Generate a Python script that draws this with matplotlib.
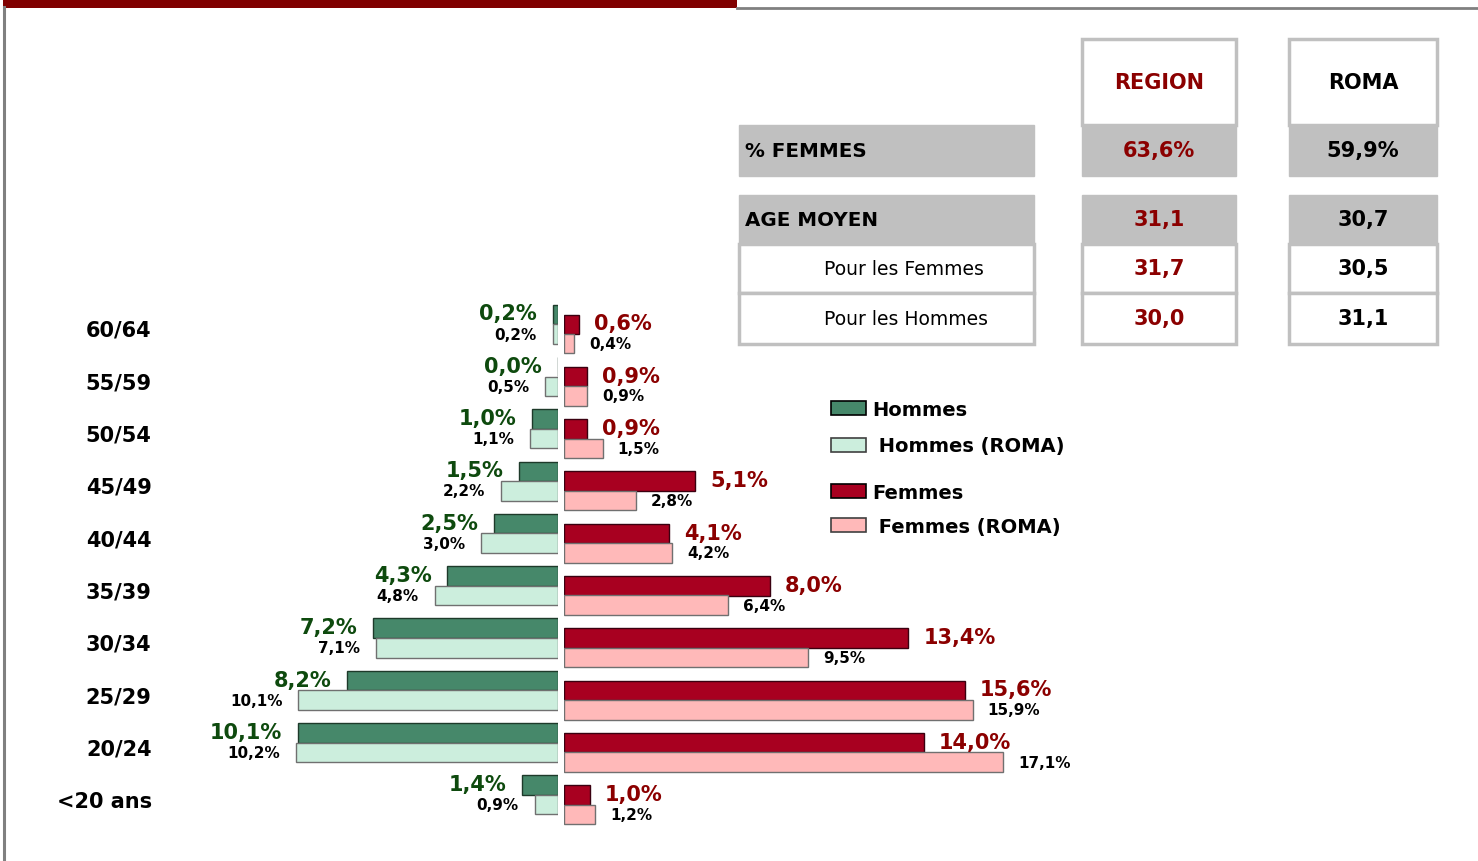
import matplotlib.pyplot as plt
from matplotlib.patches import Rectangle, Patch
import numpy as np

# pyramide des ages (en %), du haut vers le bas
ages = ['60/64', '55/59', '50/54', '45/49', '40/44', '35/39', '30/34', '25/29', '20/24', '<20 ans']
hommes = [0.2, 0.0, 1.0, 1.5, 2.5, 4.3, 7.2, 8.2, 10.1, 1.4]
hommes_roma = [0.2, 0.5, 1.1, 2.2, 3.0, 4.8, 7.1, 10.1, 10.2, 0.9]
femmes = [0.6, 0.9, 0.9, 5.1, 4.1, 8.0, 13.4, 15.6, 14.0, 1.0]
femmes_roma = [0.4, 0.9, 1.5, 2.8, 4.2, 6.4, 9.5, 15.9, 17.1, 1.2]

# tableau de synthese
tab_rows = ['% FEMMES', 'AGE MOYEN', 'Pour les Femmes', 'Pour les Hommes']
tab_region = ['63,6%', '31,1', '31,7', '30,0']
tab_roma = ['59,9%', '30,7', '30,5', '31,1']

C_H = '#46886A'
C_HR = '#CCEEDD'
C_F = '#A80020'
C_FR = '#FFB9B9'
C_GREEN_TXT = '#0E4A0E'
C_RED_TXT = '#8B0000'
GRIS = '#C0C0C0'

W, H = 1478, 862
fig = plt.figure(figsize=(W / 100, H / 100), dpi=100)
plt.rcParams['font.family'] = 'DejaVu Sans'


def box(l, t, r, b):
    # pixel box -> figure rect
    return [l / W, 1 - b / H, (r - l) / W, (b - t) / H]


def fmt(v):
    return f"{v:.1f}%".replace('.', ',')


# fond / decor en pixels
deco = fig.add_axes([0, 0, 1, 1])
deco.set_xlim(0, W)
deco.set_ylim(H, 0)
deco.axis('off')
deco.add_patch(Rectangle((3, 0), 734, 9, color='#800000', lw=0))
deco.plot([737, W], [9, 9], color='#808080', lw=2)
deco.plot([4, 4], [8, H], color='#808080', lw=2.2)

# tableau
cols = [(739, 1034), (1082, 1236), (1289, 1437)]
for (l, r) in cols[1:]:
    deco.add_patch(Rectangle((l, 40), r - l, 86, fc='white', ec=GRIS, lw=2.5))
deco.text(1159, 83, 'REGION', color=C_RED_TXT, fontsize=15, fontweight='bold', ha='center', va='center')
deco.text(1363, 83, 'ROMA', color='black', fontsize=15, fontweight='bold', ha='center', va='center')

row_y = [(126, 177), (196, 245), (245, 294), (294, 345)]
for i, (t, b) in enumerate(row_y):
    gris = i < 2
    for (l, r) in cols:
        if gris:
            deco.add_patch(Rectangle((l, t), r - l, b - t, fc=GRIS, ec=GRIS, lw=1))
        else:
            deco.add_patch(Rectangle((l, t), r - l, b - t, fc='white', ec=GRIS, lw=2.5))
    yc = (t + b) / 2
    if gris:
        deco.text(745, yc, tab_rows[i], fontsize=14.3, fontweight='bold', ha='left', va='center')
    else:
        deco.text(824, yc, tab_rows[i], fontsize=13.5, ha='left', va='center')
    deco.text(1159, yc, tab_region[i], color=C_RED_TXT, fontsize=15, fontweight='bold',
              ha='center', va='center')
    deco.text(1363, yc, tab_roma[i], color='black', fontsize=15, fontweight='bold',
              ha='center', va='center')

# pyramide
y = np.arange(len(ages))
ylim = ((840 - 329) / 52.3, (290 - 329) / 52.3)
bh = 0.373

ax_m = fig.add_axes(box(160, 290, 558, 840))
ax_f = fig.add_axes(box(564, 290, 1100, 840))
for ax in (ax_m, ax_f):
    ax.set_facecolor('none')
    ax.set_ylim(*ylim)
    for s in ax.spines.values():
        s.set_visible(False)
    ax.set_xticks([])
ax_m.set_xlim(398 / 25.7, 0)
ax_f.set_xlim(0, 536 / 25.7)

ax_m.barh(y - 0.26, hommes, height=bh, color=C_H, edgecolor='#1E3A2A', lw=1)
ax_m.barh(y + 0.115, hommes_roma, height=bh, color=C_HR, edgecolor='#707070', lw=1)
ax_f.barh(y - 0.07, femmes, height=bh, color=C_F, edgecolor='#3A0010', lw=1)
ax_f.barh(y + 0.30, femmes_roma, height=bh, color=C_FR, edgecolor='#707070', lw=1)

for i in y:
    ax_m.annotate(fmt(hommes[i]), (hommes[i], i - 0.26), xytext=(-16, 1), textcoords='offset pixels',
                  ha='right', va='center', fontsize=15, fontweight='bold', color=C_GREEN_TXT)
    ax_m.annotate(fmt(hommes_roma[i]), (hommes_roma[i], i + 0.115), xytext=(-16, 0),
                  textcoords='offset pixels', ha='right', va='center', fontsize=11,
                  fontweight='bold', color='black')
    ax_f.annotate(fmt(femmes[i]), (femmes[i], i - 0.07), xytext=(15, 1), textcoords='offset pixels',
                  ha='left', va='center', fontsize=15, fontweight='bold', color=C_RED_TXT)
    ax_f.annotate(fmt(femmes_roma[i]), (femmes_roma[i], i + 0.30), xytext=(15, 0),
                  textcoords='offset pixels', ha='left', va='center', fontsize=11,
                  fontweight='bold', color='black')

ax_m.set_yticks(y, ages, fontsize=15, fontweight='bold')
ax_m.tick_params(axis='y', length=0, pad=6)
ax_f.set_yticks([])

# legendes
leg_kw = dict(frameon=False, loc='upper left', borderpad=0, borderaxespad=0,
              handlelength=1.8, handleheight=0.72, handletextpad=0.3,
              prop={'weight': 'bold', 'size': 14})
h1 = [Patch(fc=C_H, ec='black', lw=1.2), Patch(fc=C_HR, ec='#404040', lw=1.2)]
h2 = [Patch(fc=C_F, ec='black', lw=1.2), Patch(fc=C_FR, ec='#404040', lw=1.2)]
fig.legend(h1, ['Hommes', ' Hommes (ROMA)'], bbox_to_anchor=(831 / W, 1 - 401 / H),
           labelspacing=0.9, **leg_kw)
fig.legend(h2, ['Femmes', ' Femmes (ROMA)'], bbox_to_anchor=(831 / W, 1 - 484 / H),
           labelspacing=0.75, **leg_kw)

fig.savefig('out.png', dpi=100)
